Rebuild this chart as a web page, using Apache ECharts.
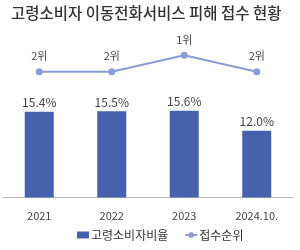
<!DOCTYPE html>
<html>
<head>
<meta charset="utf-8">
<script src="https://cdn.jsdelivr.net/npm/echarts@6/dist/echarts.min.js"></script>
<style>
  html, body { margin: 0; padding: 0; background: #fff; }
  #main { width: 300px; height: 250px; }
</style>
</head>
<body>
<div id="main"></div>
<script>
var categories = ["2021", "2022", "2023", "2024.10."];
var ratioValues = [15.4, 15.5, 15.6, 12.0];
var rankValues = [2, 2, 1, 2];

var barColor = "#4662ad";
var lineColor = "#8c9ad6";
var font = "'Noto Sans CJK KR', 'Noto Sans', sans-serif";

var myChart = echarts.init(document.getElementById("main"));
var option = {
  animation: false,
  title: {
    text: "고령소비자 이동전화서비스 피해 접수 현황",
    left: 6,
    top: 0,
    textStyle: {
      fontFamily: font,
      fontSize: 15.5,
      fontWeight: 500,
      color: "#333"
    }
  },
  legend: {
    bottom: 4,
    left: 72,
    itemGap: 16,
    itemWidth: 12,
    itemHeight: 7,
    textStyle: {
      fontFamily: font,
      fontSize: 12,
      color: "#333",
      padding: [0, 0, 0, -3]
    },
    data: [
      { name: "고령소비자비율", icon: "rect" },
      { name: "접수순위" }
    ]
  },
  grid: {
    left: 3,
    right: 7,
    top: 39,
    bottom: 52.5
  },
  xAxis: {
    type: "category",
    data: categories,
    axisLine: { lineStyle: { color: "#bbb" } },
    axisTick: { length: 3, lineStyle: { color: "#bbb" } },
    axisLabel: {
      fontFamily: font,
      fontSize: 11,
      color: "#444",
      margin: 13
    }
  },
  yAxis: [
    {
      type: "value",
      min: 0,
      max: 28.5,
      show: false,
      splitLine: { show: false }
    },
    {
      type: "value",
      min: 0,
      max: 9.7,
      inverse: true,
      show: false,
      splitLine: { show: false }
    }
  ],
  series: [
    {
      name: "고령소비자비율",
      type: "bar",
      yAxisIndex: 0,
      barWidth: 29,
      data: ratioValues,
      itemStyle: { color: barColor },
      label: {
        show: true,
        position: "top",
        distance: 3,
        fontFamily: font,
        fontSize: 12,
        color: "#444",
        formatter: function (p) {
          return p.value.toFixed(1) + "%";
        }
      }
    },
    {
      name: "접수순위",
      type: "line",
      yAxisIndex: 1,
      data: rankValues,
      symbol: "circle",
      symbolSize: 7,
      itemStyle: { color: lineColor },
      lineStyle: { color: lineColor, width: 2 },
      label: {
        show: true,
        position: "top",
        distance: 7,
        fontFamily: font,
        fontSize: 11,
        color: "#444",
        formatter: "{c}위"
      }
    }
  ]
};
myChart.setOption(option);
</script>
</body>
</html>
